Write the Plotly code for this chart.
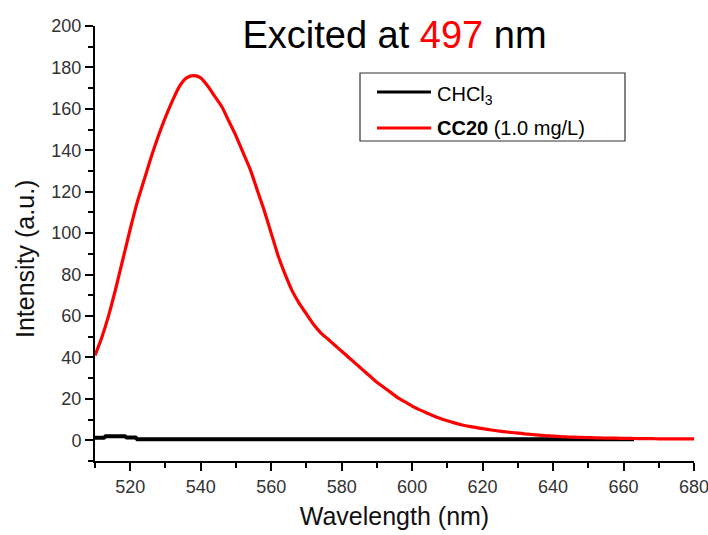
import plotly.graph_objects as go

# ---------------- data ----------------
cc20_wavelength = [510, 512, 514, 516, 518, 520, 522, 524, 526, 528, 530, 532, 534, 536, 538,
                   540, 542, 544, 546, 548, 550, 552, 554, 556, 558, 560, 562, 564, 566, 568,
                   570, 572, 574, 576, 578, 580, 582, 584, 586, 588, 590, 592, 594, 596, 598,
                   600, 602, 604, 606, 608, 610, 612, 614, 616, 618, 620, 622, 624, 626, 628,
                   630, 632, 634, 636, 638, 640, 642, 644, 646, 648, 650, 652, 654, 656, 658,
                   660, 662, 664, 666, 668, 670, 672, 674, 676, 678, 680]
cc20_intensity = [41, 50, 61, 74, 88, 102, 115, 126, 137, 147, 156, 164, 171, 175, 176,
                  175, 171, 166, 161, 154, 147, 139, 131, 121, 111, 100, 89, 80, 72, 66,
                  61, 56, 52, 49, 46, 43, 40, 37, 34, 31, 28, 25.5, 23, 20.5, 18.5,
                  16.5, 14.8, 13.3, 11.8, 10.5, 9.4, 8.4, 7.5, 6.8, 6.2, 5.6, 5.1, 4.6, 4.2, 3.8,
                  3.5, 3.1, 2.8, 2.5, 2.2, 2.0, 1.8, 1.6, 1.5, 1.4, 1.3, 1.2, 1.1, 1.0, 1.0,
                  0.9, 0.9, 0.8, 0.8, 0.8, 0.7, 0.7, 0.7, 0.7, 0.7, 0.7]

chcl3_wavelength = [510, 512.5, 513, 518.5, 519, 521.5, 522, 540, 560, 580, 600, 620, 640, 663]
chcl3_intensity = [1.2, 1.2, 1.9, 1.9, 1.3, 1.3, 0.5, 0.5, 0.5, 0.5, 0.5, 0.5, 0.5, 0.5]

x_ticks = [520, 540, 560, 580, 600, 620, 640, 660, 680]
y_ticks = [0, 20, 40, 60, 80, 100, 120, 140, 160, 180, 200]

# ---------------- layout geometry (pixels) ----------------
W, H = 708, 535
L, R, T, B = 95, 14, 26, 74
PW, PH = W - L - R, H - T - B


def px_x(px):
    return (px - L) / PW


def px_y(py):
    return (H - B - py) / PH


FONT = "Liberation Sans, Arial, sans-serif"

fig = go.Figure()
fig.add_trace(go.Scatter(x=chcl3_wavelength, y=chcl3_intensity, mode="lines",
                         line=dict(color="black", width=4), name="CHCl<sub>3</sub>",
                         showlegend=False))
fig.add_trace(go.Scatter(x=cc20_wavelength, y=cc20_intensity, mode="lines",
                         line=dict(color="#ff0000", width=3.2, shape="spline", smoothing=0.6),
                         name="CC20 (1.0 mg/L)", showlegend=False))

axis_common = dict(showgrid=False, zeroline=False, showline=True, linecolor="black",
                   linewidth=2, ticks="outside", ticklen=8, tickwidth=1.5, tickcolor="black",
                   tickfont=dict(family=FONT, size=18, color="#333333"), mirror=False,
                   ticklabeloverflow="allow", automargin=False)

fig.update_xaxes(range=[510, 680], tickvals=x_ticks,
                 minor=dict(ticks="outside", ticklen=5, tickwidth=1.5, tickcolor="black",
                            dtick=10, tick0=510),
                 title=dict(text="Wavelength (nm)", font=dict(family=FONT, size=25, color="#111111"),
                            standoff=12),
                 **axis_common)
fig.update_yaxes(range=[-10, 200], tickvals=y_ticks,
                 minor=dict(ticks="outside", ticklen=5, tickwidth=1.5, tickcolor="black",
                            dtick=10, tick0=-10),
                 **axis_common)

# custom legend
shapes = [
    dict(type="rect", xref="paper", yref="paper", x0=px_x(360), x1=px_x(625),
         y0=px_y(141), y1=px_y(73), line=dict(color="#333333", width=1.2), fillcolor="white"),
    dict(type="line", xref="paper", yref="paper", x0=px_x(377), x1=px_x(431),
         y0=px_y(92), y1=px_y(92), line=dict(color="black", width=3)),
    dict(type="line", xref="paper", yref="paper", x0=px_x(377), x1=px_x(431),
         y0=px_y(128), y1=px_y(128), line=dict(color="#ff0000", width=3)),
]
annotations = [
    dict(xref="paper", yref="paper", x=px_x(435), y=px_y(95), xanchor="left", yanchor="middle",
         text="CHCl<sub>3</sub>", showarrow=False, font=dict(family=FONT, size=20, color="black")),
    dict(xref="paper", yref="paper", x=px_x(435), y=px_y(128), xanchor="left", yanchor="middle",
         text="<b>CC20</b> (1.0 mg/L)", showarrow=False,
         font=dict(family=FONT, size=20, color="black")),
    dict(xref="paper", yref="paper", x=px_x(25), y=px_y(259), xanchor="center", yanchor="middle",
         text="Intensity (a.u.)", textangle=-90, showarrow=False,
         font=dict(family=FONT, size=25, color="#111111")),
]

fig.update_layout(
    width=W, height=H,
    margin=dict(l=L, r=R, t=T, b=B, pad=0),
    paper_bgcolor="white", plot_bgcolor="white",
    title=dict(text="Excited at <span style='color:#ff0000'>497</span> nm",
               xref="paper", x=0.5, xanchor="center", y=1 - 35 / H, yanchor="middle",
               font=dict(family=FONT, size=38, color="black")),
    shapes=shapes, annotations=annotations, showlegend=False,
)

fig.write_html("out.html")
